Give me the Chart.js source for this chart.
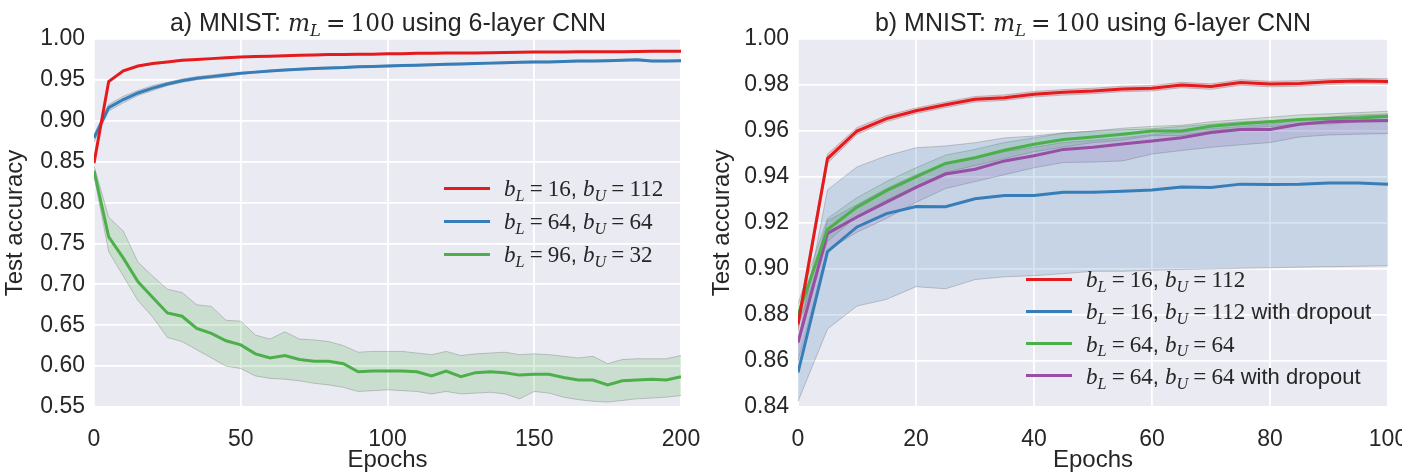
<!DOCTYPE html>
<html><head><meta charset="utf-8">
<script src="https://cdn.jsdelivr.net/npm/chart.js@4.4.0/dist/chart.umd.min.js"></script>
<style>
html,body{margin:0;padding:0;background:#fff;width:1402px;height:473px;overflow:hidden;}
canvas{position:absolute;top:0;}
.title{position:absolute;top:9px;line-height:26px;font-family:"Liberation Sans",Arial,sans-serif;font-size:25px;color:#262626;white-space:nowrap;transform:translateX(-50%);}
.math{font-family:"DejaVu Serif","Liberation Serif",serif;font-size:0.93em;}
.sb{font-size:70%;position:relative;top:0.3em;}
.eq{margin:0 0.22em;font-style:normal;}
.legend{position:absolute;left:0;top:0;font-family:"Liberation Sans",Arial,sans-serif;font-size:22px;color:#262626;}
.legend .math{font-family:"Liberation Serif","Times New Roman",serif;font-size:1.05em;}
.row{position:absolute;white-space:nowrap;height:24px;line-height:24px;}
.sw{position:absolute;left:0;top:10.5px;width:46px;height:3px;}
.tx{position:absolute;left:60px;top:0;}
</style>
</head><body>
<canvas id="cL" width="700" height="473" style="left:0"></canvas>
<canvas id="cR" width="702" height="473" style="left:700px"></canvas>
<div class="title" id="tL" style="left:388px"></div>
<div class="title" id="tR" style="left:1093px"></div>
<div class="legend" id="lgL"></div>
<div class="legend" id="lgR"></div>
<script>
// ---------------- DATA ----------------
const titleLeft = "a) MNIST: $m_L = 100$ using 6-layer CNN";
const titleRight = "b) MNIST: $m_L = 100$ using 6-layer CNN";
const xTitle = "Epochs";
const yTitle = "Test accuracy";

const leftEpochs = [0,5,10,15,20,25,30,35,40,45,50,55,60,65,70,75,80,85,90,95,100,105,110,115,120,125,130,135,140,145,150,155,160,165,170,175,180,185,190,195,200];
const leftXTicks = [0,50,100,150,200];
const leftYTicks = [0.55,0.60,0.65,0.70,0.75,0.80,0.85,0.90,0.95,1.00];
const leftLabels = ["$b_L = 16$, $b_U = 112$", "$b_L = 64$, $b_U = 64$", "$b_L = 96$, $b_U = 32$"];

const leftRed = [0.848,0.948,0.961,0.967,0.970,0.972,0.974,0.975,0.976,0.977,0.978,0.9785,0.979,0.9795,0.980,0.9805,0.981,0.981,0.9815,0.9815,0.982,0.982,0.9825,0.9825,0.983,0.983,0.983,0.9833,0.9835,0.9838,0.984,0.984,0.984,0.9843,0.9845,0.9845,0.9845,0.9848,0.985,0.985,0.985];
const leftBlue = [0.879,0.916,0.926,0.934,0.940,0.945,0.949,0.952,0.954,0.956,0.958,0.9595,0.961,0.962,0.963,0.964,0.9645,0.965,0.966,0.9665,0.967,0.9675,0.968,0.9685,0.969,0.9695,0.970,0.9705,0.971,0.9715,0.972,0.972,0.9725,0.973,0.973,0.9735,0.974,0.9745,0.973,0.973,0.9735];
const leftBlueUpper = [0.883,0.920,0.930,0.937,0.943,0.947,0.951,0.954,0.956,0.958,0.959,0.9605,0.962,0.963,0.964,0.965,0.9655,0.966,0.967,0.9675,0.968,0.9685,0.969,0.9695,0.970,0.9705,0.971,0.9715,0.972,0.9725,0.973,0.973,0.9735,0.974,0.974,0.9745,0.975,0.9755,0.974,0.974,0.9745];
const leftBlueLower = [0.874,0.912,0.922,0.931,0.937,0.943,0.947,0.950,0.952,0.954,0.957,0.9585,0.960,0.961,0.962,0.963,0.9635,0.964,0.965,0.9655,0.966,0.9665,0.967,0.9675,0.968,0.9685,0.969,0.9695,0.970,0.9705,0.971,0.971,0.9715,0.972,0.972,0.9725,0.973,0.9735,0.972,0.972,0.9725];
const leftGreen = [0.839,0.758,0.732,0.703,0.684,0.665,0.661,0.646,0.640,0.631,0.626,0.615,0.610,0.613,0.608,0.606,0.606,0.603,0.593,0.594,0.594,0.594,0.593,0.588,0.594,0.587,0.592,0.593,0.592,0.589,0.590,0.590,0.586,0.583,0.583,0.577,0.582,0.583,0.584,0.583,0.587];
const leftGreenUpper = [0.845,0.782,0.765,0.727,0.710,0.694,0.690,0.675,0.673,0.656,0.655,0.638,0.633,0.642,0.633,0.632,0.630,0.625,0.617,0.618,0.618,0.618,0.616,0.614,0.618,0.613,0.615,0.616,0.617,0.614,0.615,0.614,0.612,0.610,0.612,0.603,0.608,0.609,0.609,0.609,0.613];
const leftGreenLower = [0.833,0.740,0.710,0.680,0.660,0.635,0.630,0.620,0.610,0.600,0.597,0.588,0.585,0.584,0.582,0.579,0.577,0.574,0.569,0.570,0.571,0.570,0.569,0.566,0.569,0.566,0.567,0.568,0.566,0.560,0.569,0.567,0.562,0.559,0.557,0.556,0.558,0.560,0.561,0.562,0.564];

const rightEpochs = [0,5,10,15,20,25,30,35,40,45,50,55,60,65,70,75,80,85,90,95,100];
const rightXTicks = [0,20,40,60,80,100];
const rightYTicks = [0.84,0.86,0.88,0.90,0.92,0.94,0.96,0.98,1.00];
const rightLabels = ["$b_L = 16$, $b_U = 112$", "$b_L = 16$, $b_U = 112$ with dropout", "$b_L = 64$, $b_U = 64$", "$b_L = 64$, $b_U = 64$ with dropout"];

const rightRed = [0.876,0.948,0.960,0.9654,0.9688,0.9714,0.9738,0.9745,0.976,0.9768,0.9774,0.9783,0.9786,0.980,0.9793,0.9811,0.9804,0.9807,0.9814,0.9817,0.9815];
const rightRedUpper = [0.879,0.950,0.9615,0.9667,0.970,0.9726,0.975,0.9757,0.9772,0.978,0.9786,0.9795,0.9798,0.9812,0.9805,0.9823,0.9816,0.9819,0.9826,0.9829,0.9827];
const rightRedLower = [0.873,0.946,0.9585,0.9641,0.9676,0.9702,0.9726,0.9733,0.9748,0.9756,0.9762,0.9771,0.9774,0.9788,0.9781,0.9799,0.9792,0.9795,0.9802,0.9805,0.9803];
const rightBlue = [0.855,0.9076,0.9183,0.9241,0.9272,0.9271,0.9305,0.932,0.932,0.9334,0.9334,0.9338,0.9344,0.9357,0.9354,0.9369,0.9367,0.9369,0.9374,0.9374,0.9369];
const rightBlueUpper = [0.868,0.9344,0.9444,0.9492,0.9527,0.9535,0.9549,0.957,0.9578,0.9592,0.960,0.9605,0.961,0.962,0.963,0.964,0.9645,0.965,0.966,0.9665,0.967];
const rightBlueLower = [0.8424,0.8739,0.8839,0.8868,0.8923,0.8914,0.8954,0.8966,0.8971,0.898,0.899,0.899,0.8995,0.8998,0.900,0.9003,0.9005,0.9008,0.901,0.9012,0.9014];
const rightGreen = [0.880,0.9172,0.9269,0.9341,0.9401,0.9459,0.9484,0.9516,0.9542,0.9563,0.9574,0.9586,0.960,0.960,0.9621,0.9631,0.964,0.965,0.9654,0.9657,0.9664];
const rightGreenUpper = [0.885,0.922,0.931,0.938,0.944,0.9495,0.952,0.955,0.957,0.959,0.960,0.9612,0.962,0.9625,0.964,0.965,0.966,0.967,0.9675,0.968,0.9686];
const rightGreenLower = [0.875,0.912,0.923,0.930,0.936,0.942,0.945,0.948,0.951,0.953,0.955,0.956,0.958,0.958,0.960,0.961,0.962,0.963,0.963,0.964,0.964];
const rightPurple = [0.868,0.9155,0.9226,0.9291,0.9355,0.9413,0.9434,0.947,0.9492,0.952,0.9529,0.9543,0.9557,0.9571,0.9593,0.9607,0.9607,0.9629,0.964,0.9643,0.9646];
const rightPurpleUpper = [0.875,0.921,0.928,0.935,0.941,0.946,0.9485,0.951,0.953,0.955,0.956,0.957,0.9585,0.9595,0.961,0.962,0.963,0.965,0.966,0.967,0.9675];
const rightPurpleLower = [0.860,0.908,0.916,0.922,0.929,0.935,0.938,0.941,0.944,0.9463,0.9465,0.947,0.950,0.9515,0.9529,0.954,0.955,0.9574,0.9583,0.9586,0.9589];

// ---------------- STYLE ----------------
const FONT = '"Liberation Sans", Arial, sans-serif';
const TXT = '#262626';
const RED = [228,26,28], BLUE = [55,126,184], GREEN = [77,175,74], PURPLE = [152,78,163];
const rgba = (c,a) => `rgba(${c[0]},${c[1]},${c[2]},${a})`;

function mathToHTML(s){
  return s.split('$').map((part,i)=>{
    if(i%2===0) return part;
    let p = part.replace(/\s*=\s*/g,'\u0001');
    p = p.replace(/([A-Za-z])_([A-Za-z0-9])/g,'<i>$1</i><span class="sb"><i>$2</i></span>');
    p = p.replace(/\u0001/g,'<span class="eq">=</span>');
    return '<span class="math">'+p+'</span>';
  }).join('');
}

function pts(xs, ys){ return xs.map((x,i)=>({x:x,y:ys[i]})); }

function buildDatasets(xs, series){
  const bands = [], lines = [];
  series.forEach(s=>{
    if(s.upper){
      bands.push({label:s.label+' lo', data:pts(xs,s.lower), borderColor:'rgba(110,110,110,0.35)', borderWidth:1, fill:false, order:5});
      bands.push({label:s.label+' hi', data:pts(xs,s.upper), borderColor:'rgba(110,110,110,0.35)', borderWidth:1, fill:'-1', backgroundColor:rgba(s.color,0.2), order:5});
    }
    lines.push({label:s.label, data:pts(xs,s.mean), borderColor:rgba(s.color,1), borderWidth:3, fill:false, order:1});
  });
  return bands.concat(lines);
}

const bgPlugin = {
  id:'bg',
  beforeDraw(chart){
    const {ctx, chartArea:a} = chart;
    ctx.save(); ctx.fillStyle='#EAEAF2'; ctx.fillRect(a.left,a.top,a.right-a.left,a.bottom-a.top); ctx.restore();
  }
};

function makeChart(id, cfg){
  return new Chart(document.getElementById(id), {
    type:'line',
    data:{datasets:cfg.datasets},
    options:{
      responsive:false, animation:false, devicePixelRatio:1,
      layout:{padding:{top:39,right:cfg.padRight,left:0,bottom:0}},
      plugins:{legend:{display:false},tooltip:{enabled:false},title:{display:false}},
      elements:{point:{radius:0},line:{tension:0}},
      scales:{
        x:{type:'linear',min:cfg.xTicks[0],max:cfg.xTicks[cfg.xTicks.length-1],
          afterBuildTicks:(a)=>{a.ticks=cfg.xTicks.map(v=>({value:v}));},
          afterFit:(s)=>{s.height=66; s.paddingLeft=0; s.paddingRight=0;},
          grid:{color:'#ffffff',lineWidth:1.8,drawTicks:false},
          border:{display:false},
          ticks:{padding:19,color:TXT,font:{family:FONT,size:23},maxRotation:0,autoSkip:false,callback:(v)=>String(v)},
          title:{display:true,text:xTitle,color:TXT,font:{family:FONT,size:24},padding:{top:0,bottom:-2}}
        },
        y:{type:'linear',min:cfg.yTicks[0],max:cfg.yTicks[cfg.yTicks.length-1],
          afterBuildTicks:(a)=>{a.ticks=cfg.yTicks.map(v=>({value:v}));},
          afterFit:(s)=>{s.width=cfg.yWidth; s.paddingTop=0; s.paddingBottom=0;},
          grid:{color:'#ffffff',lineWidth:1.8,drawTicks:false},
          border:{display:false},
          ticks:{padding:9,color:TXT,font:{family:FONT,size:23},autoSkip:false,callback:(v)=>Number(v).toFixed(2)},
          title:{display:true,text:yTitle,color:TXT,font:{family:FONT,size:24},padding:{top:cfg.yTitlePad,bottom:0}}
        }
      }
    },
    plugins:[bgPlugin]
  });
}

makeChart('cL', {
  xTicks:leftXTicks, yTicks:leftYTicks, padRight:19, yWidth:94, yTitlePad:1,
  datasets:buildDatasets(leftEpochs,[
    {label:leftLabels[0], color:RED, mean:leftRed},
    {label:leftLabels[1], color:BLUE, mean:leftBlue, upper:leftBlueUpper, lower:leftBlueLower},
    {label:leftLabels[2], color:GREEN, mean:leftGreen, upper:leftGreenUpper, lower:leftGreenLower}
  ])
});
makeChart('cR', {
  xTicks:rightXTicks, yTicks:rightYTicks, padRight:14, yWidth:98, yTitlePad:8,
  datasets:buildDatasets(rightEpochs,[
    {label:rightLabels[0], color:RED, mean:rightRed, upper:rightRedUpper, lower:rightRedLower},
    {label:rightLabels[1], color:BLUE, mean:rightBlue, upper:rightBlueUpper, lower:rightBlueLower},
    {label:rightLabels[2], color:GREEN, mean:rightGreen, upper:rightGreenUpper, lower:rightGreenLower},
    {label:rightLabels[3], color:PURPLE, mean:rightPurple, upper:rightPurpleUpper, lower:rightPurpleLower}
  ])
});

document.getElementById('tL').innerHTML = mathToHTML(titleLeft);
document.getElementById('tR').innerHTML = mathToHTML(titleRight);

function buildLegend(id, labels, colors, x, y0, dy){
  const el = document.getElementById(id);
  labels.forEach((lab,i)=>{
    const r = document.createElement('div');
    r.className='row';
    r.style.left = x+'px';
    r.style.top = (y0 + i*dy - 12)+'px';
    r.innerHTML = '<div class="sw" style="background:'+rgba(colors[i],1)+'"></div><div class="tx">'+mathToHTML(lab)+'</div>';
    el.appendChild(r);
  });
}
buildLegend('lgL', leftLabels, [RED,BLUE,GREEN], 444, 188, 33);
buildLegend('lgR', rightLabels, [RED,BLUE,GREEN,PURPLE], 1026, 279, 32.3);
</script>
</body></html>
